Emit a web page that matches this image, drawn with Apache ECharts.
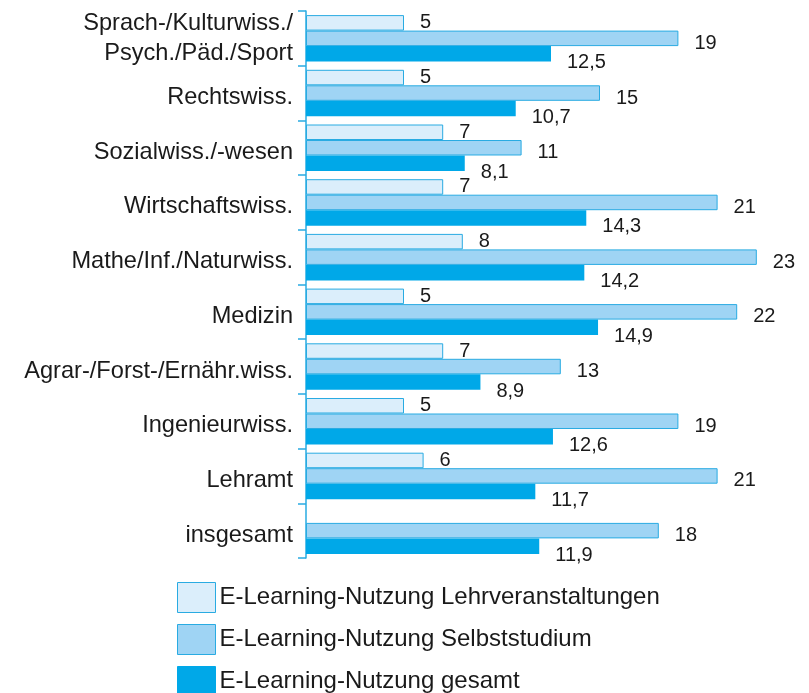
<!DOCTYPE html>
<html>
<head>
<meta charset="utf-8">
<script src="https://cdn.jsdelivr.net/npm/echarts@6/dist/echarts.min.js"></script>
<style>
  html, body { margin: 0; padding: 0; background: #fff; }
  #chart { width: 809px; height: 693px; }
</style>
</head>
<body>
<div id="chart"></div>
<script>
// Fachgruppen (top to bottom)
const categories = [
  'Sprach-/Kulturwiss./\nPsych./Päd./Sport',
  'Rechtswiss.',
  'Sozialwiss./-wesen',
  'Wirtschaftswiss.',
  'Mathe/Inf./Naturwiss.',
  'Medizin',
  'Agrar-/Forst-/Ernähr.wiss.',
  'Ingenieurwiss.',
  'Lehramt',
  'insgesamt'
];
const seriesNames = [
  'E-Learning-Nutzung Lehrveranstaltungen',
  'E-Learning-Nutzung Selbststudium',
  'E-Learning-Nutzung gesamt'
];
const lehrveranstaltungen = [5, 5, 7, 7, 8, 5, 7, 5, 6, null];
const selbststudium = [19, 15, 11, 21, 23, 22, 13, 19, 21, 18];
const gesamt = [12.5, 10.7, 8.1, 14.3, 14.2, 14.9, 8.9, 12.6, 11.7, 11.9];

const FONT = '"Liberation Sans", Arial, Helvetica, sans-serif';
const BORDER = '#29abe2';

const chart = echarts.init(document.getElementById('chart'), null, { renderer: 'canvas' });

function valueLabel(dy) {
  return {
    show: true,
    position: 'right',
    distance: 16,
    offset: [0, dy],
    color: '#1a1a1a',
    fontFamily: FONT,
    fontSize: 20,
    formatter: p => String(p.value).replace('.', ',')
  };
}

// the two-line label stays centred; single-line labels sit slightly low
const axisData = categories.map((c, i) => i === 0
  ? { value: c, textStyle: { verticalAlign: 'middle', lineHeight: 30, padding: [0, 0, 4, 0] } }
  : c);

chart.setOption({
  animation: false,
  backgroundColor: '#ffffff',
  grid: { left: 306, top: 11, width: 490, height: 547, containLabel: false },
  xAxis: {
    type: 'value', min: 0, max: 25,
    show: false
  },
  yAxis: {
    type: 'category',
    inverse: true,
    data: axisData,
    axisLine: { show: true, lineStyle: { color: BORDER, width: 1.5 } },
    axisTick: { show: true, inside: false, length: 8, lineStyle: { color: BORDER, width: 1.5 } },
    axisLabel: {
      margin: 13,
      color: '#1a1a1a',
      fontFamily: FONT,
      fontSize: 23.6,
      align: 'right',
      verticalAlign: 'top',
      lineHeight: 9
    },
    splitLine: { show: false }
  },
  legend: {
    orient: 'vertical',
    left: 172,
    top: 577,
    height: 140,
    itemWidth: 38,
    itemHeight: 30,
    itemGap: 11,
    icon: 'rect',
    itemStyle: { borderWidth: 1 },
    textStyle: { fontFamily: FONT, fontSize: 24, color: '#1a1a1a', padding: [2, 0, 0, -1] },
    data: seriesNames
  },
  series: [
    {
      name: seriesNames[0], type: 'bar',
      data: lehrveranstaltungen,
      barGap: '0%', barCategoryGap: '15%',
      itemStyle: { color: '#dbeefb', borderColor: BORDER, borderWidth: 1 },
      label: valueLabel(0)
    },
    {
      name: seriesNames[1], type: 'bar',
      data: selbststudium,
      barGap: '0%', barCategoryGap: '15%',
      itemStyle: { color: '#9fd4f4', borderColor: BORDER, borderWidth: 1 },
      label: valueLabel(5)
    },
    {
      name: seriesNames[2], type: 'bar',
      data: gesamt,
      barGap: '0%', barCategoryGap: '15%',
      itemStyle: { color: '#00a8e8', borderColor: '#00a8e8', borderWidth: 0 },
      label: valueLabel(9)
    }
  ]
});
</script>
</body>
</html>
